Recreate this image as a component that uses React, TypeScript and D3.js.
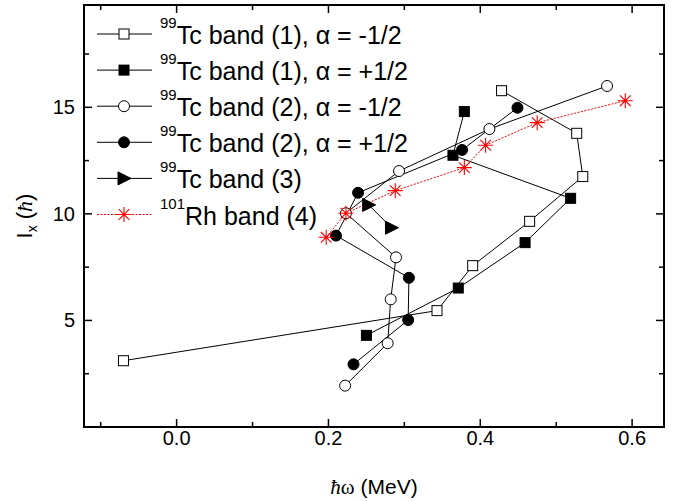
import React from 'react';
import * as d3 from 'd3';

// 99Tc band (1), alpha = -1/2
const band1mX = [-0.070, 0.343, 0.390, 0.465, 0.535, 0.527, 0.428];
const band1mY = [3.11, 5.46, 7.57, 9.65, 11.75, 13.78, 15.78];
// 99Tc band (1), alpha = +1/2
const band1pX = [0.250, 0.371, 0.459, 0.519, 0.364, 0.379];
const band1pY = [4.30, 6.52, 8.65, 10.73, 12.75, 14.80];
// 99Tc band (2), alpha = -1/2
const band2mX = [0.222, 0.278, 0.282, 0.289, 0.223, 0.293, 0.412, 0.567];
const band2mY = [1.94, 3.93, 5.99, 7.96, 10.03, 12.01, 13.98, 16.00];
// 99Tc band (2), alpha = +1/2
const band2pX = [0.233, 0.305, 0.306, 0.210, 0.239, 0.376, 0.449];
const band2pY = [2.94, 5.02, 7.00, 8.98, 10.99, 13.00, 14.98];
// 99Tc band (3)
const band3X = [0.253, 0.283];
const band3Y = [10.42, 9.35];
// 101Rh band (4)
const rhX = [0.197, 0.223, 0.288, 0.379, 0.407, 0.475, 0.591];
const rhY = [8.90, 10.03, 11.09, 12.17, 13.22, 14.28, 15.31];

const xMajor = [0, 0.2, 0.4, 0.6];
const xMinor = [-0.1, 0.1, 0.3, 0.5];
const yMajor = [5, 10, 15];
const yMinor = [2.5, 7.5, 12.5, 17.5];

const W = 681;
const H = 501;
const L = 84, R = 664, T = 5, B = 427;
const SANS = '"Liberation Sans", Arial, Helvetica, sans-serif';
const SERIF = '"Liberation Serif", "Times New Roman", serif';

type Shape = 'square' | 'circle' | 'triangle' | 'star';

interface Series {
  xs: number[];
  ys: number[];
  shape: Shape;
  filled: boolean;
  color: string;
  dash?: string;
  sup: string;
  label: string;
}

const series: Series[] = [
  { xs: band1mX, ys: band1mY, shape: 'square', filled: false, color: '#000', sup: '99', label: 'Tc band (1), \u03B1 = -1/2' },
  { xs: band1pX, ys: band1pY, shape: 'square', filled: true, color: '#000', sup: '99', label: 'Tc band (1), \u03B1 = +1/2' },
  { xs: band2mX, ys: band2mY, shape: 'circle', filled: false, color: '#000', sup: '99', label: 'Tc band (2), \u03B1 = -1/2' },
  { xs: band2pX, ys: band2pY, shape: 'circle', filled: true, color: '#000', sup: '99', label: 'Tc band (2), \u03B1 = +1/2' },
  { xs: band3X, ys: band3Y, shape: 'triangle', filled: true, color: '#000', sup: '99', label: 'Tc band (3)' },
  { xs: rhX, ys: rhY, shape: 'star', filled: false, color: '#ff0000', dash: '2,1.5', sup: '101', label: 'Rh band (4)' },
];

function Marker({ shape, filled, color, cx, cy }: { shape: Shape; filled: boolean; color: string; cx: number; cy: number }) {
  const fill = filled ? color : '#fff';
  if (shape === 'square') {
    return <rect x={cx - 5} y={cy - 5} width={10} height={10} fill={fill} stroke={color} strokeWidth={1} />;
  }
  if (shape === 'circle') {
    return <circle cx={cx} cy={cy} r={5.5} fill={fill} stroke={color} strokeWidth={1} />;
  }
  if (shape === 'triangle') {
    return <path d={`M${cx - 6},${cy - 6.5}L${cx + 7},${cy}L${cx - 6},${cy + 6.5}Z`} fill={fill} stroke={color} strokeWidth={1} />;
  }
  const r = 7.5;
  const d = r * Math.SQRT1_2;
  return (
    <path
      d={`M${cx - r},${cy}L${cx + r},${cy}M${cx},${cy - r}L${cx},${cy + r}M${cx - d},${cy - d}L${cx + d},${cy + d}M${cx - d},${cy + d}L${cx + d},${cy - d}`}
      stroke={color}
      strokeWidth={1.1}
      fill="none"
    />
  );
}

export default function App() {
  const x = d3.scaleLinear().domain([-0.122, 0.642]).range([L, R]);
  const y = d3.scaleLinear().domain([0, 19.8]).range([B, T]);
  const fmt = d3.format('.1f');

  const line = d3
    .line<[number, number]>()
    .x((d) => x(d[0]))
    .y((d) => y(d[1]));

  const legendY0 = 34;
  const legendStep = 36.1;

  return (
    <svg
      width={W}
      height={H}
      style={{ position: 'absolute', left: 0, top: 0, background: '#fff' }}
      fontFamily={SANS}
    >
      <rect x={0} y={0} width={W} height={H} fill="#fff" />

      {/* data lines */}
      {series.map((s, i) => (
        <path
          key={`l${i}`}
          d={line(s.xs.map((v, j) => [v, s.ys[j]] as [number, number])) || ''}
          fill="none"
          stroke={s.color}
          strokeWidth={1}
          strokeDasharray={s.dash}
        />
      ))}
      {/* data markers */}
      {series.map((s, i) => (
        <g key={`m${i}`}>
          {s.xs.map((v, j) => (
            <Marker key={j} shape={s.shape} filled={s.filled} color={s.color} cx={x(v)} cy={y(s.ys[j])} />
          ))}
        </g>
      ))}

      {/* frame */}
      <rect x={L} y={T} width={R - L} height={B - T} fill="none" stroke="#000" strokeWidth={2} />

      {/* x ticks, bottom and top, pointing inward */}
      {xMajor.map((v) => (
        <g key={`xM${v}`}>
          <line x1={x(v)} x2={x(v)} y1={B} y2={B - 8} stroke="#000" strokeWidth={1.5} />
          <line x1={x(v)} x2={x(v)} y1={T} y2={T + 8} stroke="#000" strokeWidth={1.5} />
          <text x={x(v)} y={445} textAnchor="middle" fontSize={20}>
            {fmt(v)}
          </text>
        </g>
      ))}
      {xMinor.map((v) => (
        <g key={`xm${v}`}>
          <line x1={x(v)} x2={x(v)} y1={B} y2={B - 5} stroke="#000" strokeWidth={1.5} />
          <line x1={x(v)} x2={x(v)} y1={T} y2={T + 5} stroke="#000" strokeWidth={1.5} />
        </g>
      ))}
      {/* y ticks, left and right */}
      {yMajor.map((v) => (
        <g key={`yM${v}`}>
          <line x1={L} x2={L + 8} y1={y(v)} y2={y(v)} stroke="#000" strokeWidth={1.5} />
          <line x1={R} x2={R - 8} y1={y(v)} y2={y(v)} stroke="#000" strokeWidth={1.5} />
          <text x={L - 9} y={y(v) + 7} textAnchor="end" fontSize={20}>
            {v}
          </text>
        </g>
      ))}
      {yMinor.map((v) => (
        <g key={`ym${v}`}>
          <line x1={L} x2={L + 5} y1={y(v)} y2={y(v)} stroke="#000" strokeWidth={1.5} />
          <line x1={R} x2={R - 5} y1={y(v)} y2={y(v)} stroke="#000" strokeWidth={1.5} />
        </g>
      ))}

      {/* axis titles */}
      <text x={(L + R) / 2} y={494} textAnchor="middle" fontSize={21}>
        <tspan fontFamily={SERIF} fontStyle="italic">{'\u0127'}</tspan>
        <tspan fontFamily={SERIF}>{'\u03C9'}</tspan>
        <tspan> (MeV)</tspan>
      </text>
      <text transform={`translate(32,${(T + B) / 2}) rotate(-90)`} textAnchor="middle" fontSize={22}>
        <tspan>I</tspan>
        <tspan fontSize={14} dy={5}>x</tspan>
        <tspan dy={-5}> (</tspan>
        <tspan fontFamily={SERIF} fontStyle="italic">{'\u0127'}</tspan>
        <tspan>)</tspan>
      </text>

      {/* legend */}
      {series.map((s, i) => {
        const ly = legendY0 + i * legendStep;
        return (
          <g key={`lg${i}`}>
            <line x1={97} x2={152} y1={ly} y2={ly} stroke={s.color} strokeWidth={1} strokeDasharray={s.dash} />
            <Marker shape={s.shape} filled={s.filled} color={s.color} cx={124} cy={ly} />
            <text x={160} y={ly + 10} fontSize={25}>
              <tspan fontSize={15} dy={-16}>{s.sup}</tspan>
              <tspan dy={16}>{s.label}</tspan>
            </text>
          </g>
        );
      })}
    </svg>
  );
}
